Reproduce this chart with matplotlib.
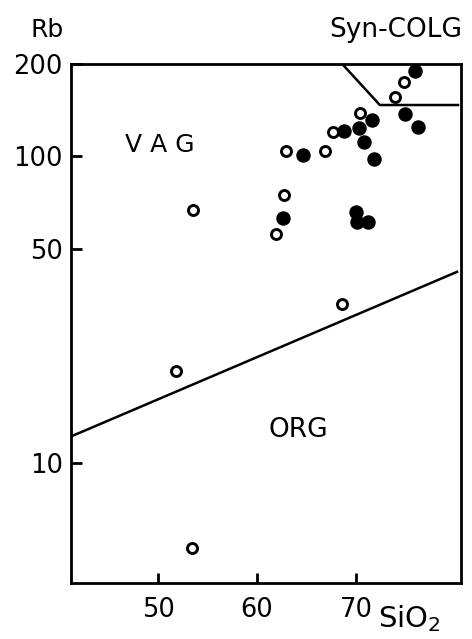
import matplotlib
matplotlib.use("Agg")
import matplotlib.pyplot as plt

# granite samples
filled_sio2 = [76.0, 74.9, 76.3, 71.6, 70.3, 70.8, 71.8, 68.8, 64.6, 62.6, 70.0, 70.1, 71.2]
filled_rb = [190, 137, 125, 131, 124, 111, 98, 121, 101, 63, 66, 61, 61]

open_sio2 = [74.8, 73.9, 70.4, 67.7, 62.9, 66.9, 62.7, 61.9, 53.5, 68.6, 51.8, 53.4]
open_rb = [175, 156, 138, 120, 104, 104, 75, 56, 67, 33, 20, 5.3]

# field boundaries
org_vag_sio2 = [41.2, 80.2]
org_vag_rb = [12.2, 42.0]
colg_sio2 = [68.6, 72.4, 80.3]
colg_rb = [200, 147, 147]

yticks = [10, 50, 100, 200]
xticks = [50, 60, 70]

plt.rcParams['font.family'] = ['DejaVu Sans']

fig = plt.figure(figsize=(4.72, 6.39), dpi=100)
ax = fig.add_axes([71 / 472, 1 - 583 / 639, 390 / 472, 519 / 639])

ax.plot(org_vag_sio2, org_vag_rb, color="black", lw=1.8)
ax.plot(colg_sio2, colg_rb, color="black", lw=1.8)

ax.plot(open_sio2, open_rb, linestyle="none", marker="o", markersize=7.2,
        markerfacecolor="white", markeredgecolor="black", markeredgewidth=2.1)
ax.plot(filled_sio2, filled_rb, linestyle="none", marker="o", markersize=9.4,
        color="black")

ax.set_yscale("log")
ax.set_xlim(41.2, 80.6)
ax.set_ylim(4.06, 200)
ax.set_yticks(yticks)
ax.set_yticklabels([str(v) for v in yticks])
ax.set_xticks(xticks)
ax.set_xticklabels([str(v) for v in xticks])
ax.minorticks_off()

for s in ax.spines.values():
    s.set_linewidth(2)
ax.tick_params(axis="both", direction="in", width=2, labelsize=18.5)
ax.tick_params(axis="y", length=8, pad=6)
ax.tick_params(axis="x", length=7, pad=10)

ax.text(50.2, 109, "V A G", fontsize=18, ha="center", va="center")
ax.text(64.2, 12.8, "ORG", fontsize=19, ha="center", va="center")

fig.text(47 / 472, 1 - 37 / 639, "Rb", fontsize=18, ha="center", va="baseline")
fig.text(396 / 472, 1 - 37 / 639, "Syn-COLG", fontsize=19, ha="center", va="baseline")
fig.text(378 / 472, 1 - 627 / 639, "SiO$_2$", fontsize=21, ha="left", va="baseline")

fig.savefig("out.png", dpi=100)
